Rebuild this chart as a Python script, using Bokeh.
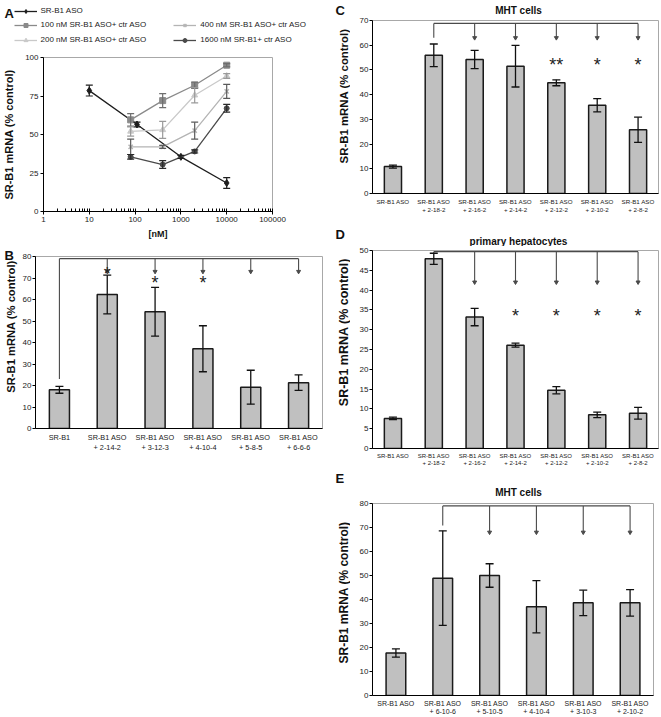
import math
from bokeh.plotting import figure
from bokeh.layouts import column, row
from bokeh.models import (ColumnDataSource, Whisker, TeeHead, FactorRange, FixedTicker,
                          NumeralTickFormatter, Legend, LegendItem, Range1d)
from bokeh.core.properties import value
from bokeh.embed import file_html
from bokeh.resources import INLINE

FONT = "Liberation Sans"
YLABEL = "SR-B1 mRNA (% control)"

# ---------------- Panel A data ----------------
a_conc_single = [10, 110, 1000, 10000]
a_srb1 = [78.5, 56.5, 35.5, 18.5]
a_srb1_err = [3.5, 1.5, 1.0, 3.5]
a_conc_combo = [80, 400, 2000, 10000]
a_100 = [59.5, 72.0, 82.0, 95.0]
a_100_err = [4.0, 4.5, 2.0, 1.0]
a_200 = [52.0, 53.0, 75.5, 88.0]
a_200_err = [3.0, 5.5, 5.0, 1.5]
a_400 = [42.0, 42.0, 52.5, 78.0]
a_400_err = [5.0, 1.0, 5.5, 4.5]
a_1600 = [35.5, 30.5, 39.0, 67.0]
a_1600_err = [1.5, 2.5, 1.0, 2.5]
a_names = ["SR-B1 ASO", "100 nM SR-B1 ASO+ ctr ASO", "200 nM SR-B1 ASO+ ctr ASO",
           "400 nM SR-B1 ASO+ ctr ASO", "1600 nM SR-B1+ ctr ASO"]
a_xticks = [1, 10, 100, 1000, 10000, 100000]
a_yticks = [0, 25, 50, 75, 100]
a_xlabel = "[nM]"

# ---------------- Panel B data ----------------
b_cats = ["SR-B1", "SR-B1 ASO\n+ 2-14-2", "SR-B1 ASO\n+ 3-12-3", "SR-B1 ASO\n+ 4-10-4",
          "SR-B1 ASO\n+ 5-8-5", "SR-B1 ASO\n+ 6-6-6"]
b_vals = [18.0, 62.3, 54.3, 37.1, 19.2, 21.3]
b_errs = [1.6, 9.0, 11.3, 10.7, 7.9, 3.6]
b_yticks = [0, 10, 20, 30, 40, 50, 60, 70, 80]
b_bracket_cats = [0, 1, 2, 3, 4, 5]
b_bracket_top = 79.0
b_bracket_ends = [23.0, 73.0, 73.0, 73.0, 73.0, 73.0]
b_star_cats = [1, 2, 3]
b_stars = ["*", "*", "*"]
b_star_y = [73.5, 69.5, 69.5]

# ---------------- Panel C data ----------------
c_title = "MHT cells"
c_cats = ["SR-B1 ASO", "SR-B1 ASO\n+ 2-18-2", "SR-B1 ASO\n+ 2-16-2", "SR-B1 ASO\n+ 2-14-2",
          "SR-B1 ASO\n+ 2-12-2", "SR-B1 ASO\n+ 2-10-2", "SR-B1 ASO\n+ 2-8-2"]
c_vals = [10.9, 55.9, 54.2, 51.5, 44.8, 35.7, 25.8]
c_errs = [0.6, 4.6, 3.7, 8.4, 1.2, 2.7, 5.1]
c_yticks = [0, 10, 20, 30, 40, 50, 60, 70]
c_bracket_cats = [1, 2, 3, 4, 5, 6]
c_bracket_top = 68.8
c_bracket_ends = [63.0, 63.0, 63.0, 63.0, 63.0, 63.0]
c_star_cats = [4, 5, 6]
c_stars = ["**", "*", "*"]
c_star_y = [53.8, 53.8, 53.8]

# ---------------- Panel D data ----------------
d_title = "primary hepatocytes"
d_cats = c_cats
d_vals = [7.6, 47.9, 33.2, 26.1, 14.7, 8.5, 8.9]
d_errs = [0.3, 1.4, 2.2, 0.5, 0.9, 0.7, 1.5]
d_yticks = [0, 5, 10, 15, 20, 25, 30, 35, 40, 45, 50]
d_bracket_cats = [1, 2, 3, 4, 5, 6]
d_bracket_top = 49.7
d_bracket_ends = [49.3, 42.0, 42.0, 42.0, 42.0, 42.0]
d_star_cats = [3, 4, 5, 6]
d_stars = ["*", "*", "*", "*"]
d_star_y = [34.5, 34.5, 34.5, 34.5]

# ---------------- Panel E data ----------------
e_title = "MHT cells"
e_cats = ["SR-B1 ASO", "SR-B1 ASO\n+ 6-10-6", "SR-B1 ASO\n+ 5-10-5", "SR-B1 ASO\n+ 4-10-4",
          "SR-B1 ASO\n+ 3-10-3", "SR-B1 ASO\n+ 2-10-2"]
e_vals = [17.7, 48.9, 50.0, 37.0, 38.6, 38.6]
e_errs = [1.7, 19.7, 4.9, 10.9, 5.3, 5.5]
e_yticks = [0, 10, 20, 30, 40, 50, 60, 70, 80]
e_bracket_cats = [1, 2, 3, 4, 5]
e_bracket_top = 79.0
e_bracket_ends = [70.8, 68.0, 68.0, 68.0, 68.0]
e_star_cats = []
e_stars = []
e_star_y = []

BAR_FILL = "#c0c0c0"
BAR_LINE = "#1a1a1a"
BRACKET = "#4a4a4a"
TXT = "#111111"
NAN = float("nan")


def header(width, height):
    h = figure(width=width, height=height, x_range=Range1d(0, width),
               y_range=Range1d(0, height), toolbar_location=None, output_backend="svg",
               x_axis_location=None, y_axis_location=None, frame_align=False,
               min_border=0, min_border_left=0, min_border_right=0, min_border_top=0,
               min_border_bottom=0)
    h.outline_line_color = None
    h.xgrid.grid_line_color = None
    h.ygrid.grid_line_color = None
    return h


def head_text(h, txt, x, y, size, align="left", angle=0.0):
    h.text(x=[x], y=[y], text=[txt], text_font=value(FONT), text_font_size=size,
           text_font_style="bold", text_align=align, text_baseline="middle",
           text_color=TXT, angle=angle)


def style_axes(p, tick_font):
    p.xgrid.grid_line_color = None
    p.ygrid.grid_line_color = None
    p.outline_line_color = "#a8a8a8"
    p.outline_line_width = 1
    for ax in p.axis:
        ax.axis_line_color = "black"
        ax.axis_line_width = 1
        ax.major_label_text_font = FONT
        ax.major_label_text_color = "#1a1a1a"
        ax.major_tick_line_color = "black"
        ax.minor_tick_line_color = None
        ax.major_tick_in = 0
        ax.major_tick_out = 3
        ax.major_label_standoff = 2
    p.yaxis.major_label_text_font_size = tick_font


def bar_panel(cats, vals, errs, yticks, br_idx, br_ends, br_top, st_idx, stars, st_y,
              width, height, bl, brd, bt, bb, cat_font, tick_font="8px", star_font="18px"):
    p = figure(width=width, height=height, x_range=FactorRange(factors=cats),
               y_range=Range1d(yticks[0], yticks[-1]), toolbar_location=None,
               output_backend="svg", frame_align=False, min_border_left=bl,
               min_border_right=brd, min_border_top=bt, min_border_bottom=bb)
    style_axes(p, tick_font)
    p.yaxis.ticker = FixedTicker(ticks=yticks)
    p.yaxis.major_label_standoff = 1
    p.xaxis.major_tick_line_color = None
    p.xaxis.major_tick_out = 0
    p.xaxis.major_label_text_font_size = cat_font
    p.xaxis.major_label_standoff = 4

    p.vbar(x=cats, top=vals, width=0.42, fill_color=BAR_FILL, line_color=BAR_LINE,
           line_width=1.5)
    src = ColumnDataSource(dict(x=cats, lo=[v - e for v, e in zip(vals, errs)],
                                hi=[v + e for v, e in zip(vals, errs)]))
    w = Whisker(base="x", upper="hi", lower="lo", source=src, line_color="#111111",
                line_width=1.3, level="annotation",
                upper_head=TeeHead(size=8, line_color="#111111", line_width=1.3),
                lower_head=TeeHead(size=8, line_color="#111111", line_width=1.3))
    p.add_layout(w)

    bx = [cats[i] for i in br_idx]
    p.segment(x0=[bx[0]], y0=[br_top], x1=[bx[-1]], y1=[br_top], line_color=BRACKET,
              line_width=1.3)
    p.segment(x0=bx, y0=[br_top] * len(bx), x1=bx, y1=br_ends, line_color=BRACKET,
              line_width=1.1)
    p.scatter(x=bx[1:], y=br_ends[1:], marker="inverted_triangle", size=4,
              fill_color=BRACKET, line_color=BRACKET)
    if st_idx:
        p.text(x=[cats[i] for i in st_idx], y=st_y, text=stars, text_font=value(FONT),
               text_font_size=star_font, text_align="center", text_baseline="middle",
               y_offset=4, text_color="#222222")
    return p


# ================= LEFT COLUMN =================
# ---- Panel A legend strip
ha = header(332, 51)
head_text(ha, "A", 4, 38.2, "13px")
leg_pos = [(13.5, 35.3), (13.5, 21.5), (13.5, 6.5), (173.3, 21.5), (173.3, 6.5)]

# ---- Panel A plot
fa = figure(width=332, height=193, x_axis_type="log", x_range=Range1d(1, 100000),
            y_range=Range1d(0, 100), toolbar_location=None, output_backend="svg",
            frame_align=False,
            min_border_left=42, min_border_right=60, min_border_top=6, min_border_bottom=33)
style_axes(fa, "8px")
fa.yaxis.axis_label = YLABEL
fa.yaxis.axis_label_text_font = FONT
fa.yaxis.axis_label_text_font_style = "bold"
fa.yaxis.axis_label_text_font_size = "11px"
fa.yaxis.axis_label_text_color = TXT
fa.yaxis.axis_label_standoff = 7
fa.yaxis.ticker = FixedTicker(ticks=a_yticks)
fa.xaxis.ticker = FixedTicker(ticks=a_xticks,
                              minor_ticks=[m * 10 ** k for k in range(5) for m in range(2, 10)])
fa.xaxis.formatter = NumeralTickFormatter(format="0")
fa.xaxis.major_label_text_font_size = "8px"
fa.xaxis.minor_tick_line_color = "black"
fa.xaxis.minor_tick_in = 3
fa.xaxis.minor_tick_out = 0
fa.xaxis.major_tick_in = 3
fa.xaxis.axis_label = a_xlabel
fa.xaxis.axis_label_text_font = FONT
fa.xaxis.axis_label_text_font_style = "bold"
fa.xaxis.axis_label_text_font_size = "9px"
fa.xaxis.axis_label_text_color = TXT
fa.xaxis.axis_label_standoff = 4

series = [
    (a_conc_single, a_srb1, a_srb1_err, "#1e1e1e", "diamond", 7, "#1e1e1e"),
    (a_conc_combo, a_100, a_100_err, "#8a8a8a", "square", 6, "#6e6e6e"),
    (a_conc_combo, a_200, a_200_err, "#c9c9c9", "triangle", 6, "#9a9a9a"),
    (a_conc_combo, a_400, a_400_err, "#b4b4b4", "x", 6, "#5a5a5a"),
    (a_conc_combo, a_1600, a_1600_err, "#4a4a4a", "circle", 5, "#2a2a2a"),
]
for (xs, ys, es, col, mk, sz, ecol), name, (lx, ly) in zip(series, a_names, leg_pos):
    src = ColumnDataSource(dict(x=xs, lo=[y - e for y, e in zip(ys, es)],
                                hi=[y + e for y, e in zip(ys, es)]))
    fa.add_layout(Whisker(base="x", upper="hi", lower="lo", source=src, line_color=ecol,
                          line_width=1.2, level="annotation",
                          upper_head=TeeHead(size=7, line_color=ecol, line_width=1.2),
                          lower_head=TeeHead(size=7, line_color=ecol, line_width=1.2)))
    fa.line(xs, ys, line_color=col, line_width=1.3)
    fa.scatter(xs, ys, marker=mk, size=sz, fill_color=col, line_color=col,
               line_width=1.5 if mk == "x" else 1)
    # legend key renderers (same styling, nothing drawable) in the legend strip
    lr = ha.line(x=[NAN, NAN], y=[NAN, NAN], line_color=col, line_width=1.3)
    sr = ha.scatter(x=[NAN], y=[NAN], marker=mk, size=sz, fill_color=col, line_color=col,
                    line_width=1.5 if mk == "x" else 1)
    leg = Legend(items=[LegendItem(label=name, renderers=[lr, sr])], location=(lx, ly),
                 border_line_color=None, background_fill_alpha=0, padding=0, margin=0,
                 glyph_width=23, glyph_height=10, label_height=10, label_standoff=4,
                 spacing=0, label_text_font=FONT, label_text_font_size="8px",
                 label_text_color="#1a1a1a")
    ha.add_layout(leg)

# ---- Panel B (label strip + plot)
lb = header(19, 216)
head_text(lb, "B", 4, 205, "13px")
head_text(lb, YLABEL, 10, 134, "11.2px", align="center", angle=math.pi / 2)
fb = bar_panel(b_cats, b_vals, b_errs, b_yticks, b_bracket_cats, b_bracket_ends, b_bracket_top,
               b_star_cats, b_stars, b_star_y, width=313, height=216, bl=14, brd=10, bt=12,
               bb=32, cat_font="7.3px")

left = column(ha, fa, row(lb, fb))

# ================= RIGHT COLUMN =================
# strip with panel letters and y-axis titles (page x 332..350)
sr_strip = header(18, 717)
head_text(sr_strip, "C", 3, 717 - 10, "13px")
head_text(sr_strip, "D", 3, 717 - 234, "13px")
head_text(sr_strip, "E", 3, 717 - 478, "13px")
head_text(sr_strip, YLABEL, 11, 717 - 95.5, "11.4px", align="center", angle=math.pi / 2)
head_text(sr_strip, YLABEL, 11, 717 - 331.7, "12.5px", align="center", angle=math.pi / 2)
head_text(sr_strip, YLABEL, 11.5, 717 - 592, "12px", align="center", angle=math.pi / 2)

hc = header(311, 17)
head_text(hc, c_title, 168, 7.0, "10px", align="center")
fc = bar_panel(c_cats, c_vals, c_errs, c_yticks, c_bracket_cats, c_bracket_ends, c_bracket_top,
               c_star_cats, c_stars, c_star_y, width=311, height=208, bl=22, brd=3, bt=3,
               bb=32, cat_font="6.2px")

hd = header(311, 21)
head_text(hd, d_title, 168, 5.5, "10px", align="center")
fd = bar_panel(d_cats, d_vals, d_errs, d_yticks, d_bracket_cats, d_bracket_ends, d_bracket_top,
               d_star_cats, d_stars, d_star_y, width=311, height=226, bl=22, brd=3, bt=4,
               bb=24, cat_font="6px")

he = header(311, 26)
head_text(he, e_title, 168, 6, "10px", align="center")
fe = bar_panel(e_cats, e_vals, e_errs, e_yticks, e_bracket_cats, e_bracket_ends, e_bracket_top,
               e_star_cats, e_stars, e_star_y, width=311, height=219, bl=22, brd=8, bt=5,
               bb=20, cat_font="7px")

right = row(sr_strip, column(hc, fc, hd, fd, he, fe))

layout = row(left, right)
open("out.html", "w").write(file_html(layout, INLINE))
